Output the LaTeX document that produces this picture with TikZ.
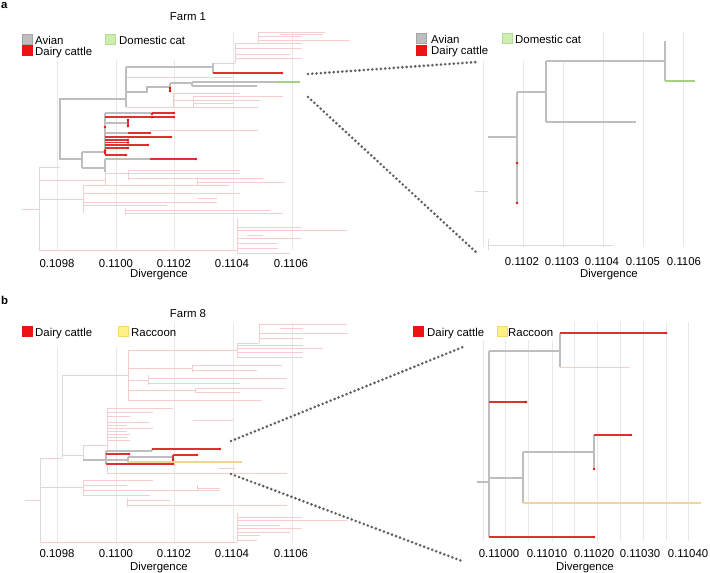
\documentclass[tikz,border=0pt]{standalone}
\usepackage{fontspec}
\setmainfont{Liberation Sans}
\definecolor{gridc}{RGB}{232,232,232}
\definecolor{faintc}{RGB}{244,206,206}
\definecolor{faintg}{RGB}{218,218,218}
\definecolor{avianc}{RGB}{190,190,190}
\definecolor{avianb}{RGB}{165,165,165}
\definecolor{cattlec}{RGB}{235,20,20}
\definecolor{branchred}{RGB}{222,50,50}
\definecolor{catc}{RGB}{205,238,175}
\definecolor{catb}{RGB}{180,218,150}
\definecolor{catbranch}{RGB}{165,210,130}
\definecolor{raccc}{RGB}{255,240,135}
\definecolor{raccb}{RGB}{238,220,110}
\definecolor{raccbranch}{RGB}{238,215,150}
\definecolor{dotc}{RGB}{95,95,95}
\begin{document}
\begin{tikzpicture}[x=1pt,y=-1pt,
  font=\fontsize{11.4}{13}\selectfont,
  gridl/.style={draw=gridc, line width=0.6pt},
  faint/.style={draw=faintc, line width=0.45pt},
  faintgr/.style={draw=faintg, line width=0.45pt},
  hg/.style={draw=avianc, line width=1.9pt},
  hgt/.style={draw=avianc, line width=2.9pt},
  hgr/.style={draw=avianc, line width=2.5pt},
  hr/.style={draw=branchred, line width=1.4pt},
  hrr/.style={draw=branchred, line width=1.8pt},
  lab/.style={anchor=base, inner sep=0pt},
  labw/.style={anchor=base west, inner sep=0pt},
  legsq/.style={minimum width=9.8pt, minimum height=9.8pt, inner sep=0pt, line width=0.5pt},
  connect/.style={draw=dotc, line width=2.9pt, line cap=round, dash pattern=on 0pt off 4.3pt}]
\useasboundingbox (0,0) rectangle (710,573);
\fill[white] (0,0) rectangle (710,573);

% ================= PANEL A LEFT =================
\foreach \x/\t in {57/60,116/60,174/60,233/32,292/32} \draw[gridl] (\x,\t) -- (\x,250);
\foreach \y/\a/\b in {32/258/325,34/280/323,36/258/302,40/258/350,43/235/302,48/235/302,54/235/290,58/235/302,63/213/235,
  77/126/233,93/173/240,96/193/283,100/173/260,103/193/233,107/126/258,130/150/258,
  167/39/60,209/22/39,250/39/237,180/39/105,199/39/83,
  170/128/240,173/105/240,178/128/263,182/197/285,185/83/230,193/83/240,198/197/217,202/83/217,205/83/167,210/125/270,213/125/283,
  227/237/302,230/237/347,235/247/263,238/237/302,243/237/278,248/237/278,253/237/290}
  \draw[faint] (\a,\y) -- (\b,\y);
\foreach \x/\a/\b in {258/32/43,235/43/63,193/96/107,173/93/107,83/185/213,105/172/185,128/170/180,197/178/185,125/208/215,237/218/253}
  \draw[faint] (\x,\a) -- (\x,\b);
\draw[faintgr] (39,167) -- (39,250);

% highlighted
\draw[hgt] (126,99) -| (60,159) -- (82,159);
\draw[hg] (126,67) -- (126,107);
\draw[hg] (126,67) -- (213,67);
\draw[hg] (213,63) -- (213,73);
\draw[hr] (213,73) -- (282,73);
\draw[hg] (126,92) -- (147,92) -- (147,87) -- (170,87);
\draw[hg] (170,83) -- (170,92);
\draw[hr] (170,87) -- (170,92);
\draw[hg] (170,83) -- (192,83);
\draw[hg] (192,82) -- (192,86);
\draw[hg] (192,82) -- (277,82);
\draw[draw=catbranch, line width=1.3pt] (277,82) -- (300,82);
\draw[hg] (192,86) -- (257,86);
% lower clade
\draw[hg] (82,152) -- (82,168);
\draw[hg] (82,152) -- (105,152);
\draw[hg] (105,113) -- (105,155);
\draw[hg] (82,168) -- (105,168);
\draw[hg] (105,159) -- (105,172);
\draw[hg] (105,159) -- (150,159);
\draw[hr] (150,159) -- (196,159);
\draw[hg] (105,113) -- (152,113);
\draw[hr] (152,113) -- (174,113);
\draw[hr] (105,117) -- (174,117);
\draw[hg] (105,123) -- (128,123);
\draw[hr] (128,119) -- (128,127);
\draw[hg] (105,133) -- (128,133);
\draw[hr] (128,133) -- (150,133);
\draw[hr] (105,137) -- (171,137);
\draw[hr] (105,140) -- (128,140);
\draw[hr] (105,142.5) -- (128,142.5);
\draw[hr] (105,145) -- (148,145);
\draw[hr] (105,148) -- (128,148);
\draw[hr] (105,150) -- (105,153);
\draw[hr] (105,155) -- (126,155);
\foreach \p in {(282,73),(170,88),(170,91),(196,159),(152,114),(174,113),(152,117),(174,117),(128,120),(128,126),(105,127),
  (150,133),(171,137),(128,140),(128,142.5),(148,145),(128,148),(105,150.5),(105,153),(126,155)}
  \fill[cattlec] \p circle (1.4pt);

% ================= PANEL A RIGHT =================
\foreach \x/\t in {483/61,523/61,563/61,603/32,643/32,683/32} \draw[gridl] (\x,\t) -- (\x,247);
\draw[faintgr] (475,191) -- (488,191);
\draw[faintgr] (488,239) -- (488,250);
\draw[faintgr] (488,245) -- (613,245);
\draw[hgr] (488,137) -- (517,137);
\draw[hgr] (517,92) -- (517,204);
\draw[hgr] (517,92) -- (546,92);
\draw[hgr] (546,61) -- (546,122);
\draw[hgr] (546,122) -- (636,122);
\draw[hgr] (546,61) -- (665,61);
\draw[hgr] (665,41) -- (665,81);
\draw[draw=catbranch, line width=1.4pt] (665,81) -- (695,81);
\fill[cattlec] (517,163) circle (1.3pt);
\fill[cattlec] (517,203) circle (1.3pt);

% ================= PANEL B LEFT =================
\foreach \x/\t in {57/347,116/347,174/323,233/323,292/323} \draw[gridl] (\x,\t) -- (\x,543);
\foreach \y/\a/\b in {324/259/347,328/280/303,333/259/348,338/259/303,343/237/259,345/237/303,348/237/323,352/237/303,357/237/302,
  350/128/237,365/192/282,370/192/257,368/128/192,378/148/287,383/148/240,380/128/148,388/195/285,392/195/240,390/128/195,400/128/262,375/62/128,
  408/107/173,412/107/153,416/107/130,420/193/233,422/107/150,425/107/127,428/107/153,431/107/127,434/107/130,437/107/127,440/107/130,445/83/107,455/62/83,
  468/218/235,473/107/287,480/83/153,485/83/127,490/83/220,488/197/220,495/83/150,487/40/83,500/25/40,500/127/170,505/127/287,
  517/237/302,520/237/347,525/237/280,528/237/302,532/237/290,535/237/260,540/237/257,542/40/237,458/40/62}
  \draw[faint] (\a,\y) -- (\b,\y);
\foreach \x/\a/\b in {259/324/343,237/343/357,128/350/400,192/365/372,148/375/385,195/388/392,107/408/449,83/445/460,
  83/480/495,127/498/507,237/513/542,197/485/490,107/464/474}
  \draw[faint] (\x,\a) -- (\x,\b);
\draw[faintgr] (62,375) -- (62,458);
\draw[faintgr] (40,458) -- (40,542);

\draw[hgt] (83,460) -- (106,460);
\draw[hg] (106,451) -- (106,464);
\draw[hg] (106,451) -- (152,451);
\draw[hg] (152,449) -- (152,451);
\draw[hr] (152,449) -- (220,449);
\draw[hr] (106,454) -- (129,454);
\draw[hg] (106,460) -- (128,460);
\draw[hg] (128,457) -- (128,462);
\draw[hg] (128,457) -- (173,457);
\draw[hr] (173,455) -- (173,460);
\draw[hr] (173,455) -- (197,455);
\draw[draw=raccbranch, line width=1.8pt] (128,462) -- (242,462);
\draw[hr] (106,464) -- (173,464);
\foreach \p in {(220,449),(129,454),(197,455),(173,460),(173,464)}
  \fill[cattlec] \p circle (1.4pt);

% ================= PANEL B RIGHT =================
\foreach \x/\t in {483/340,505/340,528/340,552/340,574/322,597/322,620/322,643/322,666/322,688/322} \draw[gridl] (\x,\t) -- (\x,541);
\draw[hgr] (477,482) -- (489,482);
\draw[hgr] (489,351) -- (489,537);
\draw[hgr] (489,351) -- (560,351);
\draw[hgr] (560,333) -- (560,367);
\draw[hrr] (560,333) -- (666,333);
\draw[draw=faintc, line width=0.6pt] (560,367) -- (630,367);
\draw[hrr] (489,402) -- (526,402);
\draw[hgr] (489,478) -- (523,478);
\draw[hgr] (523,452) -- (523,503);
\draw[hgr] (523,452) -- (594,452);
\draw[hgr] (594,435) -- (594,469);
\draw[hrr] (594,435) -- (631,435);
\draw[draw=raccbranch, line width=1.6pt] (523,503) -- (701,503);
\draw[hrr] (489,537) -- (594,537);
\foreach \p in {(666,333),(526,402),(631,435),(594,469),(594,537)}
  \fill[cattlec] \p circle (1.3pt);

% ================= CONNECTORS =================
\coordinate (a1s) at (308,74);  \coordinate (a1e) at (477,62);
\coordinate (a2s) at (308,97);  \coordinate (a2e) at (478,254);
\coordinate (b1s) at (231,441); \coordinate (b1e) at (463,347);
\coordinate (b2s) at (231,474); \coordinate (b2e) at (462,561);
\draw[connect] (a1s) -- (a1e);
\draw[connect] (a2s) -- (a2e);
\draw[connect] (b1s) -- (b1e);
\draw[connect] (b2s) -- (b2e);

% ================= TEXT =================
\node[labw] (la) at (1,8) {\bfseries a};
\node[labw] (lb) at (1,304) {\bfseries b};
\node[lab] (t1) at (188,20) {Farm 1};
\node[lab] (t8) at (188,317) {Farm 8};

% legends
\node[legsq, fill=avianc, draw=avianb] (sq1) at (27,39.5) {};
\node[legsq, fill=cattlec, draw=cattlec] (sq2) at (27,50.5) {};
\node[legsq, fill=catc, draw=catb] (sq3) at (110,39.5) {};
\node[labw] (l1) at (35,44) {Avian};
\node[labw] (l2) at (35,55) {Dairy cattle};
\node[labw] (l3) at (119,44) {Domestic cat};

\node[legsq, fill=avianc, draw=avianb] (sq4) at (421.5,38.5) {};
\node[legsq, fill=cattlec, draw=cattlec] (sq5) at (421.5,50.5) {};
\node[legsq, fill=catc, draw=catb] (sq6) at (507,38.5) {};
\node[labw] (l4) at (431,43) {Avian};
\node[labw] (l5) at (431,54) {Dairy cattle};
\node[labw] (l6) at (515,43) {Domestic cat};

\node[legsq, fill=cattlec, draw=cattlec] (sq7) at (27,331.5) {};
\node[legsq, fill=raccc, draw=raccb] (sq8) at (123,331.5) {};
\node[labw] (l7) at (35,336) {Dairy cattle};
\node[labw] (l8) at (131,336) {Raccoon};

\node[legsq, fill=cattlec, draw=cattlec] (sq9) at (418,331.5) {};
\node[legsq, fill=raccc, draw=raccb] (sq10) at (502,331.5) {};
\node[labw] (l9) at (427,336) {Dairy cattle};
\node[labw] (l10) at (508,336) {Raccoon};

% axes
\foreach \x/\t [count=\i] in {57/0.1098,116/0.1100,174/0.1102,232/0.1104,291/0.1106}
  \node[lab] (ta\i) at (\x,267) {\t};
\node[lab] (da) at (159,277) {Divergence};
\foreach \x/\t [count=\i] in {522/0.1102,562/0.1103,602/0.1104,643/0.1105,684/0.1106}
  \node[lab] (tb\i) at (\x,265.5) {\t};
\node[lab] (db) at (609,277) {Divergence};
\foreach \x/\t [count=\i] in {57/0.1098,116/0.1100,174/0.1102,232/0.1104,291/0.1106}
  \node[lab] (tc\i) at (\x,557) {\t};
\node[lab] (dc) at (159,570) {Divergence};
\foreach \x/\t [count=\i] in {499/0.11000,547/0.11010,594/0.11020,640/0.11030,688/0.11040}
  \node[lab] (td\i) at (\x,557) {\t};
\node[lab] (dd) at (585,570) {Divergence};
\end{tikzpicture}
\end{document}
